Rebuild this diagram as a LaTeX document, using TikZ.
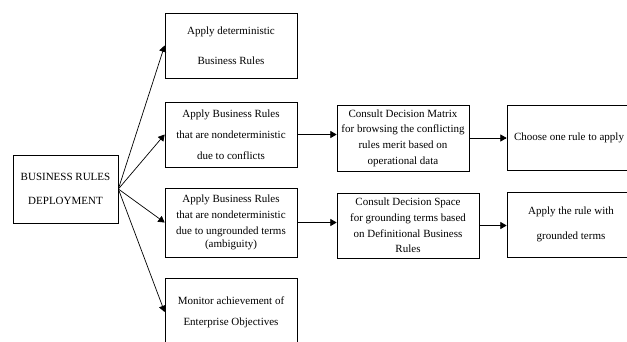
\documentclass[tikz,border=0pt]{standalone}
\usepackage{fontspec}
\setmainfont{Liberation Serif}
\usetikzlibrary{arrows}

\begin{document}
\begin{tikzpicture}[x=1pt, y=-1pt, line width=0.7pt,
		box/.style={rectangle, draw, align=center, inner sep=2pt, font=\fontsize{11}{13}\selectfont},
		link/.style={->, >=triangle 60}]
		\clip (0, 0) rectangle (627, 341);

		\node (root) at (65.5, 189) [box, minimum width=105pt, minimum height=68pt] {BUSINESS RULES\\[11pt]DEPLOYMENT};

		\node (det) at (231, 45.5) [box, minimum width=132pt, minimum height=65pt] {Apply deterministic\\[17pt]Business Rules};
		\node (conf) at (231, 134.5) [box, minimum width=132pt, minimum height=65pt] {Apply Business Rules\\[8pt]that are nondeterministic\\[8pt]due to conflicts};
		\node (ungr) at (231, 222.5) [box, minimum width=132pt, minimum height=69pt] {Apply Business Rules\\[3pt]that are nondeterministic\\[3pt]due to ungrounded terms\\(ambiguity)};
		\node (mon) at (231, 312) [box, minimum width=132pt, minimum height=68pt] {Monitor achievement of\\[8pt]Enterprise Objectives};

		\node (matrix) at (403, 138) [box, minimum width=132pt, minimum height=66pt] {Consult Decision Matrix\\[2.7pt]for browsing the conflicting\\[2.7pt]rules merit based on\\[2.7pt]operational data};
		\node (choose) at (569, 137.5) [box, minimum width=124pt, minimum height=65pt] {Choose one rule to apply};

		\node (space) at (408, 225.5) [box, minimum width=142pt, minimum height=65pt] {Consult Decision Space\\[2.7pt]for grounding terms based\\[2.7pt]on Definitional Business\\[2.7pt]Rules};
		\node (rule) at (571, 224.5) [box, minimum width=128pt, minimum height=65pt] {Apply the rule with\\[12pt]grounded terms};

		% from the deployment box to the four kinds of rule use
		\draw [link] (root.east) -- (det.west);
		\draw [link] (root.east) -- (conf.west);
		\draw [link] (root.east) -- (ungr.west);
		\draw [link] (root.east) -- (mon.west);

		\draw [link] (conf.east) -- (conf.east -| matrix.west);
		\draw [link] (matrix.east) -- (matrix.east -| choose.west);
		\draw [link] (ungr.east) -- (ungr.east -| space.west);
		\draw [link] (space.east) -- (space.east -| rule.west);
\end{tikzpicture}
\end{document}
